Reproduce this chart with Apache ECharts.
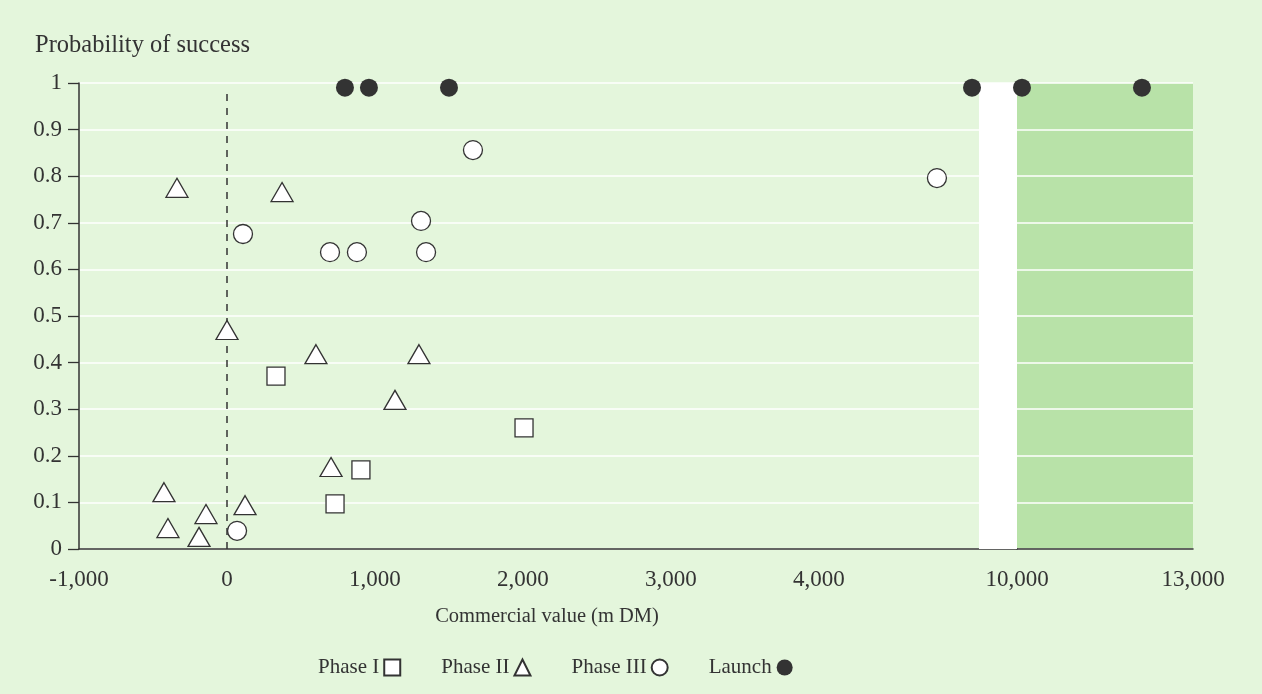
<!DOCTYPE html>
<html>
<head>
<meta charset="utf-8">
<script src="https://cdn.jsdelivr.net/npm/echarts@6/dist/echarts.min.js"></script>
<style>
  html, body { margin: 0; padding: 0; background: #e4f6dc; }
  #chart { width: 1262px; height: 694px; }
</style>
</head>
<body>
<div id="chart"></div>
<script>
// ---- Data (commercial value in m DM, probability of success) ----
const phase1 = [[331, 0.371], [2007, 0.26], [905, 0.17], [730, 0.097]];
const phase2 = [[-338, 0.775], [372, 0.766], [0, 0.47], [601, 0.418], [1297, 0.418],
                [1135, 0.32], [703, 0.176], [-426, 0.122], [122, 0.094], [-142, 0.075],
                [-399, 0.045], [-189, 0.026]];
const phase3 = [[108, 0.676], [696, 0.637], [878, 0.637], [1311, 0.704], [1345, 0.637],
                [1662, 0.856], [4797, 0.796], [68, 0.039]];
const launchLow = [[797, 0.99], [959, 0.99], [1500, 0.99], [5034, 0.99]];
const launchHigh = [[10085, 0.99], [12130, 0.99]];
const xTicksLow = [-1000, 0, 1000, 2000, 3000, 4000];
const xTicksHigh = [10000, 13000];
const yTitle = 'Probability of success';
const xTitle = 'Commercial value (m DM)';

const FONT = 'Liberation Serif';
const FS = 23;
const INK = '#333333';
const fmtNum = v => {
  const s = Math.abs(v).toString().replace(/\B(?=(\d{3})+(?!\d))/g, ',');
  return (v < 0 ? '-' : '') + s;
};
const openStyle = { color: '#ffffff', borderColor: INK, borderWidth: 1.3, opacity: 1 };
const fillStyle = { color: INK, opacity: 1 };

const chart = echarts.init(document.getElementById('chart'));
chart.setOption({
  animation: false,
  backgroundColor: '#e4f6dc',
  title: {
    text: yTitle, left: 30, top: 28,
    textStyle: { fontFamily: FONT, fontSize: 24.5, fontWeight: 'normal', color: INK }
  },
  graphic: [{
    type: 'text', x: 547, y: 617,
    style: { text: xTitle, font: '20.5px "' + FONT + '"', fill: INK,
      textAlign: 'center', textVerticalAlign: 'middle' }
  }],
  legend: {
    left: 313, top: 652, align: 'right', itemGap: 40,
    itemWidth: 16, itemHeight: 16,
    textStyle: { fontFamily: FONT, fontSize: 21, color: INK },
    data: ['Phase I', 'Phase II', 'Phase III', 'Launch']
  },
  grid: [
    { left: 79, top: 83, width: 938, height: 466, containLabel: false },
    { left: 1017, top: 83, width: 176, height: 466, containLabel: false,
      show: true, backgroundColor: '#b8e2a8', borderWidth: 0 }
  ],
  xAxis: [
    { gridIndex: 0, type: 'value', min: -1000, max: 5338,
      axisLine: { onZero: false, lineStyle: { color: INK, width: 1.5 } },
      axisTick: { show: false }, splitLine: { show: false },
      axisLabel: { customValues: xTicksLow, formatter: fmtNum, margin: 19,
        fontFamily: FONT, fontSize: FS, color: INK } },
    { gridIndex: 1, type: 'value', min: 10000, max: 13000,
      axisLine: { onZero: false, lineStyle: { color: INK, width: 1.5 } },
      axisTick: { show: false }, splitLine: { show: false },
      axisLabel: { customValues: xTicksHigh, formatter: fmtNum, margin: 19,
        fontFamily: FONT, fontSize: FS, color: INK } }
  ],
  yAxis: [
    { gridIndex: 0, type: 'value', min: 0, max: 1, interval: 0.1,
      axisLine: { show: true, onZero: false, lineStyle: { color: INK, width: 1.5 } },
      axisTick: { show: true, length: 11, lineStyle: { color: INK, width: 1.3 } },
      splitLine: { show: true, lineStyle: { color: '#ffffff', width: 1.5 } },
      axisLabel: { margin: 17, fontFamily: FONT, fontSize: FS, color: INK,
        formatter: v => String(Math.round(v * 10) / 10) } },
    { gridIndex: 1, type: 'value', min: 0, max: 1, interval: 0.1,
      axisLine: { show: false, onZero: false }, axisTick: { show: false }, axisLabel: { show: false },
      splitLine: { show: true, lineStyle: { color: '#ffffff', width: 1.5 } } }
  ],
  series: [
    { name: 'Phase I', type: 'scatter', xAxisIndex: 0, yAxisIndex: 0,
      symbol: 'rect', symbolSize: 18, itemStyle: openStyle, data: phase1, z: 5,
      markArea: { silent: true, itemStyle: { color: '#ffffff', opacity: 1 },
        data: [[{ coord: [5081, 0] }, { coord: [5338, 1] }]] },
      markLine: { silent: true, symbol: 'none', label: { show: false },
        lineStyle: { color: INK, width: 1.5, type: [7, 7], opacity: 1 },
        data: [[{ coord: [0, 0] }, { coord: [0, 0.98] }]] } },
    { name: 'Phase II', type: 'scatter', xAxisIndex: 0, yAxisIndex: 0,
      symbol: 'triangle', symbolSize: [22, 19], itemStyle: openStyle, data: phase2, z: 5 },
    { name: 'Phase III', type: 'scatter', xAxisIndex: 0, yAxisIndex: 0,
      symbol: 'circle', symbolSize: 19, itemStyle: openStyle, data: phase3, z: 5 },
    { name: 'Launch', type: 'scatter', xAxisIndex: 0, yAxisIndex: 0,
      symbol: 'circle', symbolSize: 18, itemStyle: fillStyle, data: launchLow, z: 6 },
    { name: 'Launch', type: 'scatter', xAxisIndex: 1, yAxisIndex: 1,
      symbol: 'circle', symbolSize: 18, itemStyle: fillStyle, data: launchHigh, z: 6 }
  ]
});
</script>
</body>
</html>
